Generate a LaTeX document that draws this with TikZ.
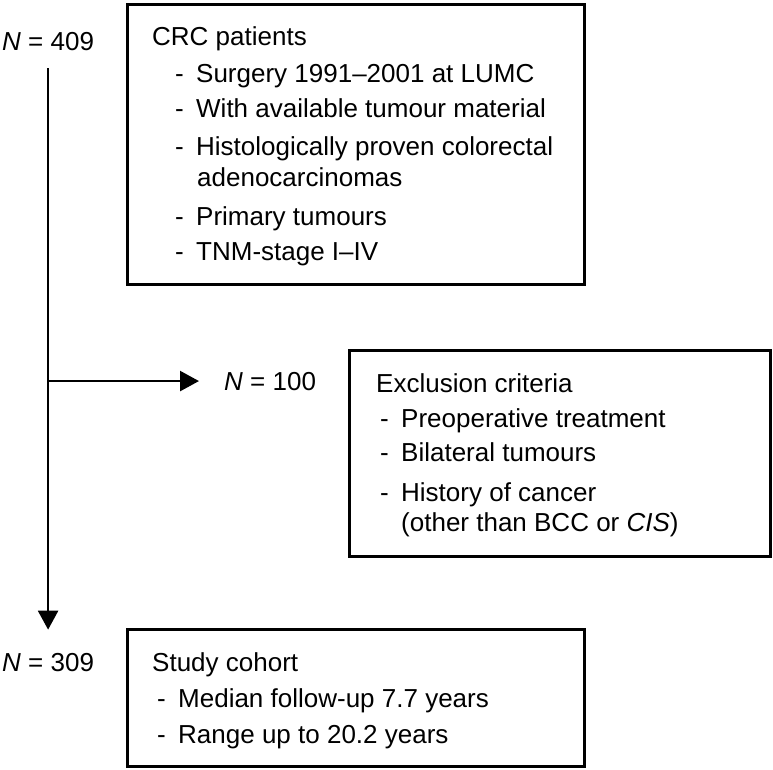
\documentclass[tikz,border=0pt]{standalone}
\usepackage{fontspec}
\setmainfont{Liberation Sans}
\usetikzlibrary{arrows.meta}
\newcommand{\dashitem}{\makebox[21pt][l]{-}}
\tikzset{%
  panel/.style = {shape=rectangle, draw, line width=3pt,%
                  anchor=north west, inner sep=0pt},%
  line/.style  = {anchor=base west, inner sep=0pt},%
  count/.style = {line},%
  flow/.style  = {line width=2.5pt, -{Triangle[length=19pt,width=20pt]}}%
}

\begin{document}
\begin{tikzpicture}
  [x=1pt,y=-1pt,
  every node/.style = {font=\fontsize{26}{31}\selectfont}]
  \useasboundingbox (0,0) rectangle (773,769);
  % boxes
  \node[panel, minimum width=457pt, minimum height=280pt] (crc) at (126,3) {};
  \node[panel, minimum width=421pt, minimum height=206pt] (excl) at (348,349) {};
  \node[panel, minimum width=457pt, minimum height=137pt] (cohort) at (126,628) {};
  % counts
  \node[count] (n409) at (2,50) {\textit{N} = 409};
  \node[count] (n100) at (224,390) {\textit{N} = 100};
  \node[count] (n309) at (2,671) {\textit{N} = 309};
  \coordinate (split) at (n409.south |- n100.west);
  \draw[flow, shorten <=18pt, shorten >=23pt] (n409.south) -- (n309.north);
  \draw[flow, shorten >=25pt] (split) -- (n100.west);
  % CRC patients
  \node[line] (crctitle) at (152,45) {CRC patients};
  \node[line] (crcA) at (175,82) {\dashitem Surgery 1991–2001 at LUMC};
  \node[line] (crcB) at (175,117) {\dashitem With available tumour material};
  \node[line] (crcC) at (175,155) {\dashitem Histologically proven colorectal};
  \node[line] (crcCc) at (197,186) {adenocarcinomas};
  \node[line] (crcD) at (175,225) {\dashitem Primary tumours};
  \node[line] (crcE) at (175,260) {\dashitem TNM-stage I–IV};
  % exclusion criteria
  \node[line] (extitle) at (376,392) {Exclusion criteria};
  \node[line] (exA) at (380,427) {\dashitem Preoperative treatment};
  \node[line] (exB) at (380,461) {\dashitem Bilateral tumours};
  \node[line] (exC) at (380,501) {\dashitem History of cancer};
  \node[line] (exCc) at (401,531) {(other than BCC or \textit{CIS})};
  % study cohort
  \node[line] (sctitle) at (152,671) {Study cohort};
  \node[line] (scA) at (157,707) {\dashitem Median follow-up 7.7 years};
  \node[line] (scB) at (157,743) {\dashitem Range up to 20.2 years};
\end{tikzpicture}
\end{document}
